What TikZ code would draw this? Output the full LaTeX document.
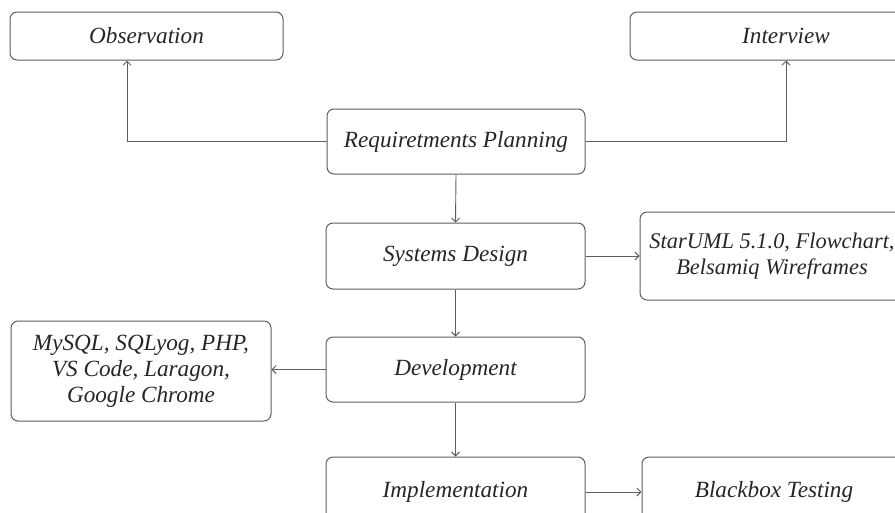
\documentclass[tikz,border=0pt]{standalone}
\usepackage{fontspec}
\setmainfont{Liberation Serif}
\usetikzlibrary{arrows.meta}
\definecolor{edge}{HTML}{5E5E5E}
\definecolor{ink}{HTML}{262626}
\begin{document}
\begin{tikzpicture}[x=1pt,y=-1pt,
  box/.style={draw=edge, line width=1pt, rounded corners=7pt, align=center,
    text=ink, font=\fontsize{23.2}{26}\selectfont\itshape, inner sep=0pt},
  arr/.style={draw=edge, line width=0.9pt, -{Straight Barb[length=4pt,width=8pt]}}]
\useasboundingbox (0,0) rectangle (895,512);
\clip (0,0) rectangle (895,512);
\node[box, minimum width=273pt, minimum height=48pt] (obs) at (146.5,36) {Observation};
\node[box, minimum width=312pt, minimum height=48pt] (int) at (786,36) {Interview};
\node[box, minimum width=258pt, minimum height=65pt] (req) at (456,141.5) {Requiretments Planning};
\node[box, minimum width=259pt, minimum height=66pt] (sd) at (455.5,256) {Systems Design};
\node[box, minimum width=264pt, minimum height=88pt, font=\fontsize{22.4}{26}\selectfont\itshape] (star) at (772,256) {StarUML 5.1.0, Flowchart,\\Belsamiq Wireframes};
\node[box, minimum width=259pt, minimum height=65pt] (dev) at (455.5,369.5) {Development};
\node[box, minimum width=260pt, minimum height=100pt] (my) at (141,371) {MySQL, SQLyog, PHP,\\VS Code, Laragon,\\Google Chrome};
\node[box, minimum width=259pt, minimum height=70pt] (imp) at (455.5,492) {Implementation};
\node[box, minimum width=264pt, minimum height=70pt] (bb) at (774,492) {Blackbox Testing};
\draw[arr] (req.west) -| ([xshift=-19.5pt]obs.south);
\draw[arr] (req.east) -| (int.south);
\draw[arr] (req.south) -- (sd.north);
\draw[arr] (sd.east) -- (star.west);
\draw[arr] (sd.south) -- (dev.north);
\draw[arr] (dev.west) -- (dev.west -| my.east);
\draw[arr] (dev.south) -- (imp.north);
\draw[arr] (imp.east) -- (bb.west);
\end{tikzpicture}
\end{document}
